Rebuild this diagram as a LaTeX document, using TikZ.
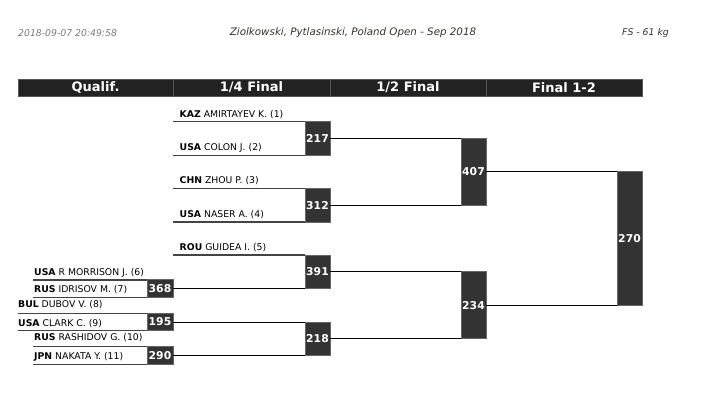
\documentclass[tikz,border=0pt]{standalone}
\usepackage{fontspec}
\setmainfont{DejaVu Sans}
\begin{document}
\begin{tikzpicture}[x=1pt,y=-1pt,
  hdr/.style={fill=hdrcol,draw=hdrline,line width=0.8pt,minimum height=17pt,inner sep=0pt,text=white,font=\fontsize{13}{13}\selectfont\bfseries},
  numbox/.style={fill=boxcol,draw=boxline,line width=0.8pt,minimum width=25pt,inner sep=0pt,text=white,font=\fontsize{10.8}{10.8}\selectfont\bfseries},
  cname/.style={anchor=base west,inner sep=0pt,font=\fontsize{9.3}{9.3}\selectfont,text=black},
  mline/.style={draw=lincol,line width=1.3pt},
  conn/.style={draw=black,line width=0.9pt},
  toptxt/.style={inner sep=0pt,font=\fontsize{9.3}{9.3}\selectfont\itshape}]
\definecolor{hdrcol}{HTML}{222222}
\definecolor{hdrline}{HTML}{555555}
\definecolor{boxcol}{HTML}{333333}
\definecolor{boxline}{HTML}{666666}
\definecolor{lincol}{HTML}{444444}
\definecolor{graytxt}{HTML}{7A7A7A}
\definecolor{darktxt}{HTML}{3A3228}
\useasboundingbox (0,0) rectangle (702,406);
% top texts
\node[toptxt,anchor=west,text=graytxt] (date) at (18,33) {2018-09-07 20:49:58};
\node[toptxt,font=\fontsize{10.3}{10.3}\selectfont\itshape,text=darktxt] (title) at (353,33) {Ziolkowski, Pytlasinski, Poland Open - Sep 2018};
\node[toptxt,anchor=east,text=darktxt] (cat) at (669,33) {FS - 61 kg};
% header
\node[hdr,minimum width=155pt] (h1) at (95.5,87.5) {Qualif.};
\node[hdr,minimum width=157pt] (h2) at (251.5,87.5) {1/4 Final};
\node[hdr,minimum width=156pt] (h3) at (408,87.5) {1/2 Final};
\node[hdr,minimum width=156pt] (h4) at (564,87.5) {Final 1-2};
% boxes
\node[numbox,minimum height=34pt] (b217) at (317.5,138.5) {217};
\node[numbox,minimum height=33.5pt] (b312) at (317.5,205.2) {312};
\node[numbox,minimum height=33.5pt] (b391) at (317.5,271.8) {391};
\node[numbox,minimum height=33.5pt] (b218) at (317.5,338.8) {218};
\node[numbox,minimum height=66.7pt] (b407) at (473.5,171.85) {407};
\node[numbox,minimum height=67pt] (b234) at (473.5,305.3) {234};
\node[numbox,minimum height=133.5pt] (b270) at (629.5,238.6) {270};
\node[numbox,minimum width=26pt,minimum height=17.4pt] (b368) at (160,288.6) {368};
\node[numbox,minimum width=26pt,minimum height=17.4pt] (b195) at (160,322) {195};
\node[numbox,minimum width=26pt,minimum height=17.4pt] (b290) at (160,355.5) {290};
% line start coordinates
\coordinate (s1) at (173,121.5);
\coordinate (s2) at (173,155.5);
\coordinate (s3) at (173,188.5);
\coordinate (s4) at (173,221.9);
\coordinate (s5) at (173,255.1);
\coordinate (q6) at (33,279.9);
\coordinate (q7) at (33,297.3);
\coordinate (q8) at (18,313.3);
\coordinate (q9) at (18,330.7);
\coordinate (q10) at (33,346.8);
\coordinate (q11) at (33,364.2);
% competitor lines
\draw[mline] (s1) -- (s1 -| b217.west);
\draw[mline] (s2) -- (s2 -| b217.west);
\draw[mline] (s3) -- (s3 -| b312.west);
\draw[mline] (s4) -- (s4 -| b312.west);
\draw[mline] (s5) -- (s5 -| b391.west);
\draw[mline] (q6) -- (q6 -| b368.west);
\draw[mline] (q7) -- (q7 -| b368.west);
\draw[mline] (q8) -- (q8 -| b195.west);
\draw[mline] (q9) -- (q9 -| b195.west);
\draw[mline] (q10) -- (q10 -| b290.west);
\draw[mline] (q11) -- (q11 -| b290.west);
% connectors
\draw[conn] (b368.east) -- (b368.east -| b391.west);
\draw[conn] (b195.east) -- (b195.east -| b218.west);
\draw[conn] (b290.east) -- (b290.east -| b218.west);
\draw[conn] (b217.east) -- (b217.east -| b407.west);
\draw[conn] (b312.east) -- (b312.east -| b407.west);
\draw[conn] (b391.east) -- (b391.east -| b234.west);
\draw[conn] (b218.east) -- (b218.east -| b234.west);
\draw[conn] (b407.east) -- (b407.east -| b270.west);
\draw[conn] (b234.east) -- (b234.east -| b270.west);
% names
\node[cname] (n1) at (179.5,117.3) {\textbf{KAZ} AMIRTAYEV K. (1)};
\node[cname] (n2) at (179.5,150.8) {\textbf{USA} COLON J. (2)};
\node[cname] (n3) at (179.5,184) {\textbf{CHN} ZHOU P. (3)};
\node[cname] (n4) at (179.5,217.3) {\textbf{USA} NASER A. (4)};
\node[cname] (n5) at (179.5,250.5) {\textbf{ROU} GUIDEA I. (5)};
\node[cname] (n6) at (34,276) {\textbf{USA} R MORRISON J. (6)};
\node[cname] (n7) at (34,293) {\textbf{RUS} IDRISOV M. (7)};
\node[cname] (n8) at (18,308) {\textbf{BUL} DUBOV V. (8)};
\node[cname] (n9) at (18,326.3) {\textbf{USA} CLARK C. (9)};
\node[cname] (n10) at (34,341) {\textbf{RUS} RASHIDOV G. (10)};
\node[cname] (n11) at (34,359.6) {\textbf{JPN} NAKATA Y. (11)};
\end{tikzpicture}
\end{document}
